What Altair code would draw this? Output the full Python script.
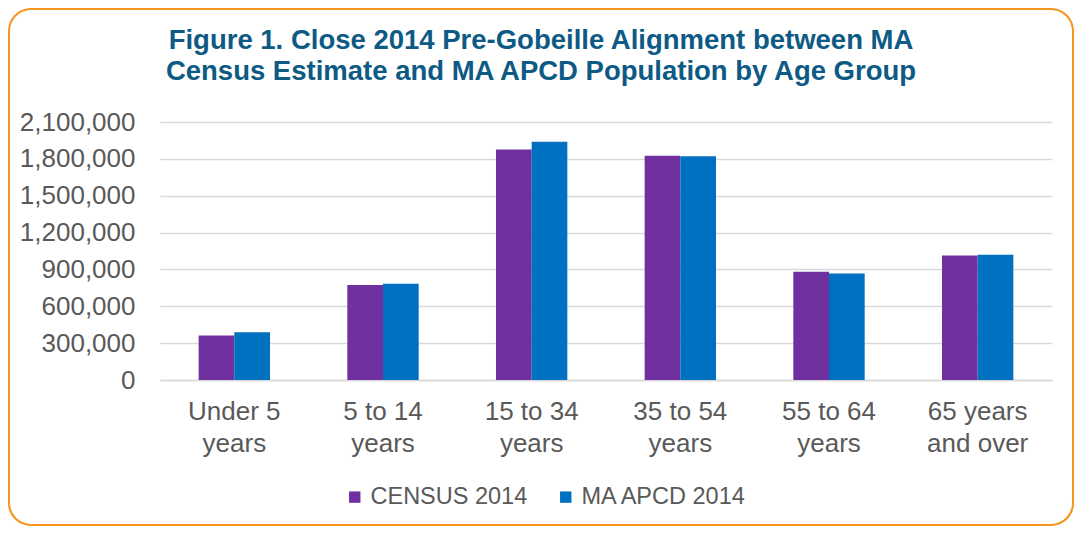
import altair as alt
import pandas as pd

categories = ["Under 5\nyears", "5 to 14\nyears", "15 to 34\nyears", "35 to 54\nyears", "55 to 64\nyears", "65 years\nand over"]
series = ["CENSUS 2014", "MA APCD 2014"]
census = [362000, 773000, 1877000, 1825000, 881000, 1014000]
apcd = [389000, 784000, 1940000, 1822000, 866000, 1020000]
colors = ["#7030A0", "#0070C0"]
y_ticks = [0, 300000, 600000, 900000, 1200000, 1500000, 1800000, 2100000]
title_lines = ["Figure 1. Close 2014 Pre-Gobeille Alignment between MA",
               "Census Estimate and MA APCD Population by Age Group"]

rows = []
for c, v1, v2 in zip(categories, census, apcd):
    rows.append({"group": c, "series": series[0], "value": v1})
    rows.append({"group": c, "series": series[1], "value": v2})
df = pd.DataFrame(rows)

FONT = "Liberation Sans"
GRAY = "#595959"

bars = alt.Chart(df).mark_bar().encode(
    x=alt.X("group:N", sort=categories,
            scale=alt.Scale(paddingInner=0.52, paddingOuter=0.26),
            axis=alt.Axis(title=None, labelAngle=0, labelFontSize=26, labelColor=GRAY,
                          labelFont=FONT, labelLineHeight=32, labelPadding=18,
                          labelExpr="split(datum.label, '\\n')",
                          ticks=False, domainColor="#D9D9D9", domainWidth=1.5)),
    xOffset=alt.XOffset("series:N", sort=series),
    y=alt.Y("value:Q", scale=alt.Scale(domain=[0, 2100000], nice=False),
            axis=alt.Axis(title=None, values=y_ticks, format=",d", labelFontSize=26,
                          labelColor=GRAY, labelFont=FONT, labelPadding=25,
                          ticks=False, domain=False, gridColor="#D9D9D9", gridWidth=1.5)),
    color=alt.Color("series:N", sort=series,
                    scale=alt.Scale(domain=series, range=colors),
                    legend=alt.Legend(title=None, orient="none", direction="horizontal",
                                      legendX=183, legendY=363, symbolType="square",
                                      symbolSize=130, symbolStrokeWidth=0, labelFontSize=23.5,
                                      labelFont=FONT, labelColor=GRAY, labelOffset=4,
                                      labelLimit=400, columnPadding=26, padding=0)),
)

one = pd.DataFrame({"a": [0]})

border = alt.Chart(one).mark_rect(
    filled=False, stroke="#F7941D", strokeWidth=2, cornerRadius=22
).encode(
    x=alt.value(-151), x2=alt.value(913), y=alt.value(-113), y2=alt.value(403)
)

title_style = dict(font=FONT, fontWeight="bold", fontSize=27.5, color="#0D5A84",
                   align="center", baseline="alphabetic")
title1 = alt.Chart(one).mark_text(**title_style).encode(
    x=alt.value(381), y=alt.value(-73), text=alt.value(title_lines[0]))
title2 = alt.Chart(one).mark_text(**title_style).encode(
    x=alt.value(381), y=alt.value(-42), text=alt.value(title_lines[1]))

chart = alt.layer(bars, border, title1, title2).properties(
    width=892, height=258,
    autosize=alt.AutoSizeParams(type="none"),
    padding={"left": 152, "top": 114, "right": 22, "bottom": 146},
).configure_view(stroke=None)

chart.save("out.html", embed_options={"renderer": "svg", "actions": False})
